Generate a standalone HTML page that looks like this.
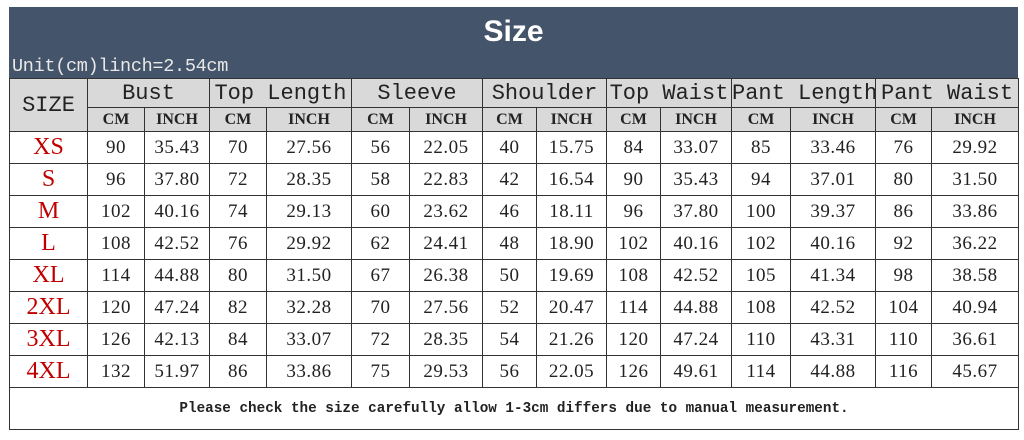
<!DOCTYPE html>
<html><head><meta charset="utf-8"><style>
body{margin:0;width:1024px;height:440px;background:#fff;overflow:hidden;font-family:"Liberation Serif",serif;}
.hdr{position:absolute;left:9px;top:7px;width:1009px;height:71px;background:#44546a;}
.hdr .t{position:absolute;left:0;width:100%;top:8px;text-align:center;color:#fff;font:bold 30px "Liberation Sans",sans-serif;}
.hdr .u{position:absolute;left:3px;top:49px;color:#e8e8e8;font:18.5px "Liberation Mono",monospace;letter-spacing:-0.3px;}
table{position:absolute;left:9px;top:78px;border-collapse:collapse;width:1009px;table-layout:fixed;}
td{border:1px solid #333;text-align:center;padding:0;font-size:19px;color:#222;white-space:nowrap;overflow:hidden;}
tr.h1 td{background:#d9d9d9;height:28px;font-family:"Liberation Mono",monospace;font-size:22px;}
tr.h2 td{background:#d9d9d9;height:23px;font-weight:bold;font-size:16px;}
td.sz{background:#d9d9d9;font-family:"Liberation Mono",monospace;font-size:21px;}
tr.d td{height:31px;letter-spacing:0.5px;}
tr.d td:first-child{color:#c00000;font-size:24px;letter-spacing:0;}
td.f{height:41px;font-family:"Liberation Mono",monospace;font-weight:bold;font-size:14.3px;}
</style></head><body>
<div class="hdr"><div class="t">Size</div><div class="u">Unit(cm)linch=2.54cm</div></div>
<table>
<colgroup><col style="width:78px"><col style="width:57px"><col style="width:65px"><col style="width:57px"><col style="width:85px"><col style="width:58px"><col style="width:73px"><col style="width:54px"><col style="width:70px"><col style="width:54px"><col style="width:71px"><col style="width:59px"><col style="width:85px"><col style="width:56px"><col style="width:87px"></colgroup>
<tr class="h1"><td rowspan="2" class="sz">SIZE</td><td colspan="2">Bust</td><td colspan="2">Top Length</td><td colspan="2">Sleeve</td><td colspan="2">Shoulder</td><td colspan="2">Top Waist</td><td colspan="2">Pant Length</td><td colspan="2">Pant Waist</td></tr>
<tr class="h2"><td>CM</td><td>INCH</td><td>CM</td><td>INCH</td><td>CM</td><td>INCH</td><td>CM</td><td>INCH</td><td>CM</td><td>INCH</td><td>CM</td><td>INCH</td><td>CM</td><td>INCH</td></tr>
<tr class="d"><td>XS</td><td>90</td><td>35.43</td><td>70</td><td>27.56</td><td>56</td><td>22.05</td><td>40</td><td>15.75</td><td>84</td><td>33.07</td><td>85</td><td>33.46</td><td>76</td><td>29.92</td></tr>
<tr class="d"><td>S</td><td>96</td><td>37.80</td><td>72</td><td>28.35</td><td>58</td><td>22.83</td><td>42</td><td>16.54</td><td>90</td><td>35.43</td><td>94</td><td>37.01</td><td>80</td><td>31.50</td></tr>
<tr class="d"><td>M</td><td>102</td><td>40.16</td><td>74</td><td>29.13</td><td>60</td><td>23.62</td><td>46</td><td>18.11</td><td>96</td><td>37.80</td><td>100</td><td>39.37</td><td>86</td><td>33.86</td></tr>
<tr class="d"><td>L</td><td>108</td><td>42.52</td><td>76</td><td>29.92</td><td>62</td><td>24.41</td><td>48</td><td>18.90</td><td>102</td><td>40.16</td><td>102</td><td>40.16</td><td>92</td><td>36.22</td></tr>
<tr class="d"><td>XL</td><td>114</td><td>44.88</td><td>80</td><td>31.50</td><td>67</td><td>26.38</td><td>50</td><td>19.69</td><td>108</td><td>42.52</td><td>105</td><td>41.34</td><td>98</td><td>38.58</td></tr>
<tr class="d"><td>2XL</td><td>120</td><td>47.24</td><td>82</td><td>32.28</td><td>70</td><td>27.56</td><td>52</td><td>20.47</td><td>114</td><td>44.88</td><td>108</td><td>42.52</td><td>104</td><td>40.94</td></tr>
<tr class="d"><td>3XL</td><td>126</td><td>42.13</td><td>84</td><td>33.07</td><td>72</td><td>28.35</td><td>54</td><td>21.26</td><td>120</td><td>47.24</td><td>110</td><td>43.31</td><td>110</td><td>36.61</td></tr>
<tr class="d"><td>4XL</td><td>132</td><td>51.97</td><td>86</td><td>33.86</td><td>75</td><td>29.53</td><td>56</td><td>22.05</td><td>126</td><td>49.61</td><td>114</td><td>44.88</td><td>116</td><td>45.67</td></tr>
<tr><td colspan="15" class="f">Please check the size carefully allow 1-3cm differs due to manual measurement.</td></tr>
</table>
</body></html>
